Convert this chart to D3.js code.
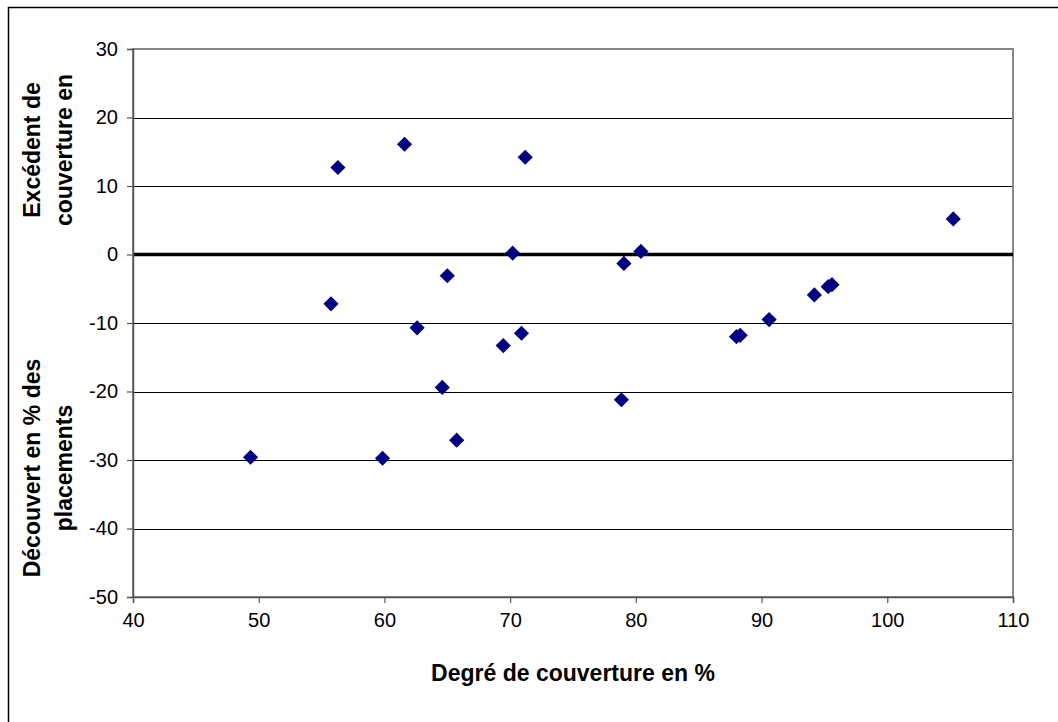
<!DOCTYPE html>
<html>
<head>
<meta charset="utf-8">
<script src="https://cdn.jsdelivr.net/npm/d3@7"></script>
<style>
  body { margin: 0; background: #fff; }
  svg { font-family: "Liberation Sans", Arial, sans-serif; }
</style>
</head>
<body>
<script>
// data: degree of coverage (x) vs surplus/deficit (y)
var coverage = [56.3, 61.6, 71.2, 70.2, 65.0, 55.75, 62.6, 70.9, 69.45, 64.6,
                65.75, 49.35, 59.85, 79.05, 80.4, 78.85, 88.0, 88.3, 90.6, 94.2,
                95.3, 95.6, 105.25];
var surplus = [12.7, 16.1, 14.2, 0.2, -3.1, -7.2, -10.7, -11.5, -13.3, -19.4,
               -27.1, -29.6, -29.75, -1.3, 0.45, -21.2, -12.0, -11.8, -9.5, -5.9,
               -4.7, -4.4, 5.2];
var xTicks = [40, 50, 60, 70, 80, 90, 100, 110];
var yTicks = [30, 20, 10, 0, -10, -20, -30, -40, -50];

var xTitle = "Degré de couverture en %";
var yTitleTop = ["Excédent de", "couverture en"];
var yTitleBottom = ["Découvert en % des", "placements"];

var W = 1058, H = 722;
var mLeft = 133, mRight = 1013, mTop = 49, mBottom = 597;

var svg = d3.select("body").append("svg")
    .attr("width", W)
    .attr("height", H);

// outer chart frame (right and bottom edges fall outside the picture)
svg.append("rect")
    .attr("x", 8.5).attr("y", 7.5)
    .attr("width", W + 20).attr("height", H + 20)
    .attr("fill", "none")
    .attr("stroke", "#000")
    .attr("stroke-width", 1.5);

var x = d3.scaleLinear().domain([40, 110]).range([mLeft, mRight]);
var y = d3.scaleLinear().domain([-50, 30]).range([mBottom, mTop]);

// gridlines
svg.append("g")
  .selectAll("line")
  .data(yTicks.filter(d => d != 0 && d != 30 && d != -50))
  .join("line")
    .attr("x1", mLeft).attr("x2", mRight)
    .attr("y1", d => Math.round(y(d)) + 0.5)
    .attr("y2", d => Math.round(y(d)) + 0.5)
    .attr("stroke", "#000")
    .attr("stroke-width", 1);

// plot area frame
svg.append("rect")
    .attr("x", mLeft).attr("y", mTop)
    .attr("width", mRight - mLeft).attr("height", mBottom - mTop)
    .attr("fill", "none")
    .attr("stroke", "#888")
    .attr("stroke-width", 2);

// zero line
svg.append("line")
    .attr("x1", mLeft).attr("x2", mRight)
    .attr("y1", y(0)).attr("y2", y(0))
    .attr("stroke", "#000")
    .attr("stroke-width", 3.5);

// axes (plain hyphen for negatives, like the original)
var xAxis = svg.append("g")
    .attr("transform", "translate(0," + mBottom + ")")
    .call(d3.axisBottom(x).tickValues(xTicks).tickSize(6).tickPadding(10)
        .tickFormat(d => String(d)));

var yAxis = svg.append("g")
    .attr("transform", "translate(" + mLeft + ",0)")
    .call(d3.axisLeft(y).tickValues(yTicks).tickSize(6).tickPadding(9)
        .tickFormat(d => String(d)));

[xAxis, yAxis].forEach(function(g) {
    g.select(".domain").attr("stroke", "#555").attr("stroke-width", 1.5);
    g.selectAll(".tick line").attr("stroke", "#555").attr("stroke-width", 1.2);
    g.selectAll(".tick text")
        .attr("fill", "#000")
        .style("font-family", "'Liberation Sans', Arial, sans-serif")
        .style("font-size", "20px");
});

// points
svg.append("g")
  .selectAll("path")
  .data(coverage)
  .join("path")
    .attr("d", d3.symbol().type(d3.symbolSquare).size(115))
    .attr("transform", (d, i) => "translate(" + x(d) + "," + y(surplus[i]) + ") rotate(45)")
    .attr("fill", "#000080");

// axis titles
svg.append("text")
    .attr("x", 573)
    .attr("y", 681)
    .attr("text-anchor", "middle")
    .style("font-weight", "bold")
    .style("font-size", "23px")
    .text(xTitle);

function yTitle(lines, cy) {
    var t = svg.append("text")
        .attr("transform", "translate(0," + cy + ") rotate(-90)")
        .attr("text-anchor", "middle")
        .style("font-weight", "bold")
        .style("font-size", "23px");
    t.selectAll("tspan")
      .data(lines)
      .join("tspan")
        .attr("x", 0)
        .attr("y", (d, i) => 40 + i * 32)
        .text(d => d);
}
yTitle(yTitleTop, 150);
yTitle(yTitleBottom, 468);
</script>
</body>
</html>
